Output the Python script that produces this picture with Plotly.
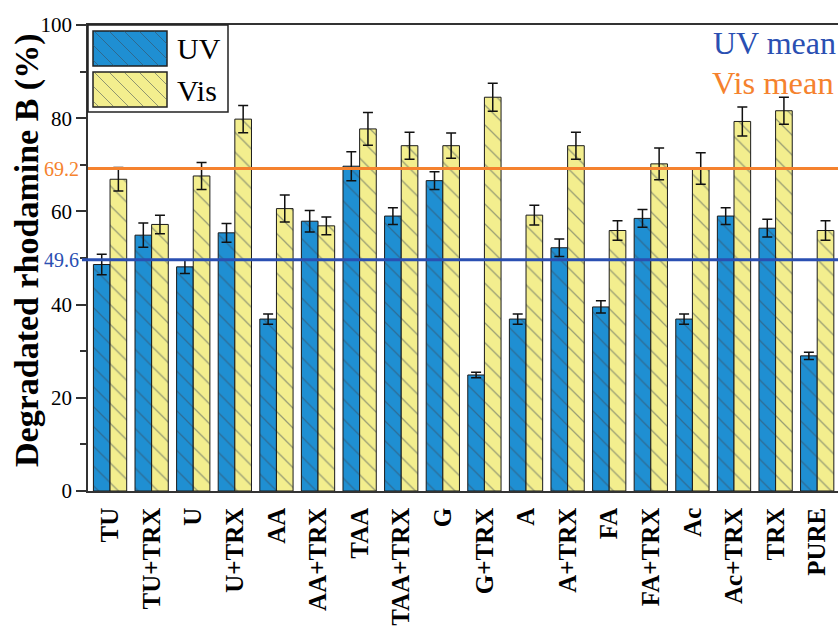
import plotly.graph_objects as go

categories = ["TU", "TU+TRX", "U", "U+TRX", "AA", "AA+TRX", "TAA", "TAA+TRX", "G",
              "G+TRX", "A", "A+TRX", "FA", "FA+TRX", "Ac", "Ac+TRX", "TRX", "PURE"]
uv_values = [48.6, 54.9, 48.1, 55.4, 36.9, 57.9, 69.7, 59.0, 66.6,
             24.9, 36.9, 52.2, 39.5, 58.5, 36.9, 59.0, 56.4, 29.0]
uv_errors = [2.2, 2.6, 1.4, 2.0, 1.1, 2.3, 3.1, 1.8, 1.9,
             0.6, 1.1, 1.9, 1.3, 1.9, 1.1, 1.8, 1.9, 0.8]
vis_values = [66.9, 57.2, 67.6, 79.8, 60.6, 56.9, 77.7, 74.1, 74.1,
              84.5, 59.2, 74.1, 55.9, 70.2, 69.2, 79.3, 81.6, 55.9]
vis_errors = [2.5, 2.0, 2.9, 2.9, 2.9, 1.9, 3.5, 2.9, 2.7,
              3.0, 2.1, 2.9, 2.1, 3.4, 3.4, 3.1, 2.9, 2.1]
uv_mean = 49.6
vis_mean = 69.2
y_ticks = [0, 20, 40, 60, 80, 100]

UV_COLOR = "#1f8fd2"
VIS_COLOR = "#f3ee8e"
UV_MEAN_COLOR = "#2a4fb2"
VIS_MEAN_COLOR = "#f5822e"
FONT = "Liberation Serif"

W, H = 838, 631
L, R, T, B = 88, 838, 25, 491


def px2x(px):
    return (px - L) / (R - L)


def px2y(py):
    return (B - py) / (B - T)


hatch = dict(shape="\\", fgcolor="#3c4a58", fgopacity=0.5, size=14,
             solidity=0.09, fillmode="overlay")

fig = go.Figure()
fig.add_trace(go.Bar(
    x=categories, y=uv_values, name="UV",
    marker=dict(color=UV_COLOR, line=dict(color="#1a1a1a", width=1), pattern=hatch),
    error_y=dict(type="data", array=uv_errors, color="#111", thickness=1.5, width=5),
))
fig.add_trace(go.Bar(
    x=categories, y=vis_values, name="Vis",
    marker=dict(color=VIS_COLOR, line=dict(color="#1a1a1a", width=1), pattern=hatch),
    error_y=dict(type="data", array=vis_errors, color="#111", thickness=1.5, width=5),
))

shapes = []
# mean lines
shapes.append(dict(type="line", xref="paper", yref="y", x0=px2x(82), x1=1.02,
                   y0=uv_mean, y1=uv_mean, line=dict(color=UV_MEAN_COLOR, width=3),
                   layer="above"))
shapes.append(dict(type="line", xref="paper", yref="y", x0=0, x1=1.02,
                   y0=vis_mean, y1=vis_mean, line=dict(color=VIS_MEAN_COLOR, width=3),
                   layer="above"))

# legend box
shapes.append(dict(type="rect", xref="paper", yref="paper", x0=px2x(88), x1=px2x(228),
                   y0=px2y(112), y1=px2y(25), line=dict(color="#222", width=1.5),
                   fillcolor="white", layer="above"))


def swatch(x0, y0, x1, y1, color):
    out = [dict(type="rect", xref="paper", yref="paper", x0=px2x(x0), x1=px2x(x1),
                y0=px2y(y1), y1=px2y(y0), line=dict(color="#222", width=1.5),
                fillcolor=color, layer="above")]
    path = ""
    c = x0 - y1 + 6
    while c < x1 - y0:
        ya, yb = max(y0, x0 - c), min(y1, x1 - c)
        if yb > ya:
            path += f"M{px2x(ya + c)},{px2y(ya)} L{px2x(yb + c)},{px2y(yb)} "
        c += 15
    out.append(dict(type="path", xref="paper", yref="paper", path=path,
                    line=dict(color="rgba(60,74,88,0.55)", width=1), layer="above"))
    return out


shapes += swatch(93, 31, 167, 66, UV_COLOR)
shapes += swatch(93, 72, 167, 107, VIS_COLOR)

annotations = [
    dict(text="UV", xref="paper", yref="paper", x=px2x(175), y=px2y(48),
         xanchor="left", yanchor="middle", showarrow=False,
         font=dict(family=FONT, size=30, color="black")),
    dict(text="Vis", xref="paper", yref="paper", x=px2x(175), y=px2y(90),
         xanchor="left", yanchor="middle", showarrow=False,
         font=dict(family=FONT, size=30, color="black")),
    dict(text="UV mean", xref="paper", yref="paper", x=px2x(711), y=px2y(43),
         xanchor="left", yanchor="middle", showarrow=False,
         font=dict(family=FONT, size=32, color=UV_MEAN_COLOR)),
    dict(text="Vis mean", xref="paper", yref="paper", x=px2x(710), y=px2y(83),
         xanchor="left", yanchor="middle", showarrow=False,
         font=dict(family=FONT, size=32.5, color=VIS_MEAN_COLOR)),
    dict(text=f"{uv_mean}", xref="paper", yref="y", x=px2x(81), y=uv_mean,
         xanchor="right", yanchor="middle", showarrow=False,
         font=dict(family=FONT, size=20, color=UV_MEAN_COLOR)),
    dict(text=f"{vis_mean}", xref="paper", yref="y", x=px2x(81), y=vis_mean,
         xanchor="right", yanchor="middle", showarrow=False,
         font=dict(family=FONT, size=20, color=VIS_MEAN_COLOR)),
    dict(text="<b>Degradated rhodamine B (%)</b>", xref="paper", yref="paper",
         x=px2x(27), y=px2y(251), xanchor="center", yanchor="middle",
         textangle=-90, showarrow=False,
         font=dict(family=FONT, size=34, color="black")),
]

fig.update_layout(
    width=W, height=H, autosize=False,
    margin=dict(l=L, r=W - R, t=T, b=H - B, pad=0),
    plot_bgcolor="white", paper_bgcolor="white",
    barmode="group", bargap=0.2, bargroupgap=0,
    showlegend=False,
    shapes=shapes, annotations=annotations,
    font=dict(family=FONT, color="black"),
)
fig.update_xaxes(
    type="category", range=[-0.53, 17.5],
    showline=True, linecolor="#333", linewidth=1.5, mirror=True,
    ticks="", showgrid=False, zeroline=False,
    tickangle=-90, ticklabelstandoff=5,
    tickfont=dict(family=FONT, size=25, color="black"),
    tickprefix="<b>", ticksuffix="</b>",
)
fig.update_yaxes(
    range=[0, 100], tickvals=y_ticks,
    showline=True, linecolor="#333", linewidth=1.5, mirror=False,
    ticks="outside", ticklen=10, tickwidth=1.5, tickcolor="#333",
    minor=dict(tickvals=[10, 30, 50, 70, 90], ticks="outside", ticklen=6,
               tickwidth=1.5, tickcolor="#333"),
    showgrid=False, zeroline=False,
    tickfont=dict(family=FONT, size=21, color="black"),
)

fig.write_html(
    "out.html",
    config={"displayModeBar": False},
    post_script="document.body.style.margin='0';document.body.style.overflow='hidden';"
                "document.documentElement.style.overflow='hidden';",
)
